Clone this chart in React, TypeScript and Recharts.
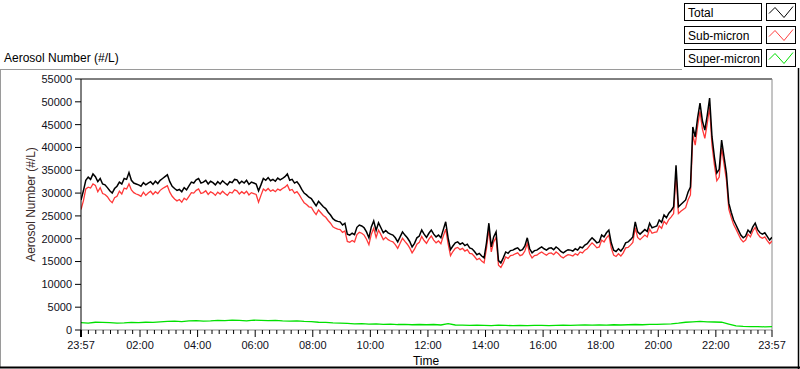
import React from "react";
import { LineChart, Line, XAxis, YAxis, ReferenceLine } from "recharts";

// minutes after 23:57, 5-minute samples for total / sub-micron
const STEP_MIN = 5;
const SUPER_STEP_MIN = 15;
const START_MIN = 23 * 60 + 57;

const totalCounts = [
  28500, 30500, 32800, 33500, 33000, 34200, 33600, 32500, 33200, 32000, 31800, 31200,
  30500, 30000, 31000, 31500, 32400, 32000, 33200, 33000, 34500, 32800, 32200, 32000,
  31800, 31500, 32300, 31800, 32200, 32500, 31900, 32600, 32100, 32800, 33200, 33600,
  34000, 32500, 31500, 31000, 30600, 30800, 30300, 31200, 30700, 31600, 32400, 32200,
  32900, 33200, 32200, 32400, 32800, 32000, 32600, 32300, 31800, 32500, 32000, 32700,
  32200, 31800, 32500, 32300, 33000, 32900, 32100, 32600, 32200, 32800, 31900, 32400,
  32200, 32000, 30500, 31800, 33200, 32800, 33400, 32700, 33000, 32600, 33300, 32900,
  33200, 33600, 34200, 32800, 33000, 32200, 32500, 31800, 30800, 30000, 29600, 29100,
  28800, 28000, 27200, 28200, 27600, 27000, 26600, 25800, 25200, 24400, 24000, 23800,
  23700, 23000, 23400, 21000, 20800, 21200, 20900, 22500, 23000, 22800, 22400, 21500,
  20200, 22600, 23900, 21800, 23500, 22400, 21300, 21800, 21300, 21000, 20800, 20200,
  19300, 20400, 21500, 20800, 20200, 19400, 18200, 19000, 20200, 20600, 21900, 21000,
  20300, 21200, 21900, 21000, 20400, 20800, 20200, 22000, 23700, 20200, 17600, 18400,
  19100, 19300, 18800, 19100, 18500, 18800, 18000, 17800, 17200, 16500, 16800, 16200,
  15800, 19100, 23400, 18200, 20400, 21500, 15200, 14700, 15800, 17100, 16800, 17400,
  17500, 17800, 18000, 17400, 17600, 18400, 20200, 17800, 16900, 17400, 17500, 17900,
  18200, 17800, 17500, 17900, 18000, 17600, 18200, 17800, 17200, 16900, 17300, 17600,
  17500, 17300, 17800, 17500, 18200, 18000, 18600, 18900, 19600, 20200, 19700, 19100,
  19300, 20800, 20400, 21300, 21900, 19100, 17500, 17200, 17800, 17300, 18000, 19100,
  19300, 19800, 20400, 23700, 21500, 21000, 21500, 22000, 21600, 23400, 22400, 22600,
  22800, 24100, 23600, 25200, 24600, 25600, 26200, 27000, 36100, 27000, 27500, 28000,
  28500, 30200, 31300, 44500, 42300, 46500, 49700, 45800, 43800, 47000, 50800, 42300,
  37900, 34400, 35200, 41600, 38000, 34400, 27800, 25800, 24100, 23000, 21900, 20800,
  20200, 20600, 21900, 21300, 22600, 23400, 22000, 21300, 21000, 21300, 20500, 19700, 20300,
];

const subMicronCounts = [
  26400, 28300, 30900, 31300, 31100, 32000, 31700, 30300, 31200, 29900, 29700, 29200,
  28400, 27900, 29000, 29300, 30400, 29800, 31100, 30900, 32000, 30700, 30100, 29800,
  29600, 29300, 30200, 29500, 30000, 30400, 29700, 30300, 29900, 30600, 31000, 31300,
  31600, 30200, 29300, 28700, 28300, 28600, 28000, 28900, 28500, 29300, 30100, 30000,
  30600, 30900, 29900, 30100, 30500, 29700, 30300, 30000, 29500, 30200, 29800, 30400,
  29900, 29500, 30200, 30000, 30700, 30500, 29800, 30300, 29900, 30400, 29600, 30100,
  29900, 29700, 28000, 29500, 30900, 30500, 31000, 30400, 30700, 30300, 30900, 30600,
  31000, 31300, 31800, 30600, 30800, 30000, 30300, 29600, 28700, 27900, 27500, 27000,
  26900, 26000, 25300, 26300, 25700, 25100, 24700, 24000, 23400, 22600, 22300, 22100,
  22000, 21400, 21700, 19400, 19200, 19600, 19300, 20900, 21400, 21200, 20800, 19900,
  18700, 21000, 22300, 20300, 21900, 20900, 19800, 20300, 19800, 19500, 19300, 18700,
  17900, 19000, 20100, 19400, 18800, 18000, 16900, 17700, 18800, 19200, 20500, 19600,
  19000, 19900, 20600, 19700, 19100, 19500, 18900, 20600, 22100, 18900, 16300, 17200,
  17900, 18100, 17600, 17900, 17300, 17600, 16800, 16700, 16100, 15400, 15700, 15100,
  14700, 17900, 22100, 17100, 19300, 20300, 14200, 13700, 14700, 16000, 15700, 16300,
  16400, 16700, 16900, 16300, 16500, 17300, 19000, 16700, 15800, 16300, 16400, 16800,
  17100, 16700, 16400, 16800, 16900, 16500, 17100, 16700, 16100, 15800, 16200, 16500,
  16400, 16200, 16700, 16400, 17100, 16900, 17500, 17800, 18500, 19100, 18600, 18000,
  18200, 19700, 19300, 20200, 20800, 18000, 16400, 16100, 16700, 16200, 16900, 18000,
  18100, 18600, 19200, 22400, 20300, 19800, 20300, 20800, 20400, 22100, 21200, 21400,
  21500, 22800, 22300, 23800, 23200, 24200, 24800, 25500, 34300, 25500, 26000, 26400,
  26800, 28500, 29600, 42700, 40500, 44700, 47900, 44000, 42000, 45200, 48800, 40500,
  36200, 32700, 33500, 39900, 36400, 32900, 26500, 24700, 23100, 22100, 21000, 19900,
  19300, 19700, 21000, 20400, 21700, 22500, 21100, 20400, 20100, 20400, 19600, 18900, 19500,
];

// 15-minute samples
const superMicronCounts = [
  1600, 1500, 1700, 1650, 1600, 1500, 1550, 1650,
  1600, 1700, 1650, 1800, 1900, 1950, 1850, 2000,
  2050, 1950, 2000, 2100, 2050, 2150, 2100, 2000,
  2150, 2100, 2050, 2100, 2000, 1950, 2000, 1900,
  1850, 1700, 1650, 1550, 1500, 1450, 1350, 1400,
  1300, 1350, 1250, 1300, 1200, 1250, 1150, 1200,
  1150, 1200, 1100, 1400, 1100, 1050, 1000, 1050,
  1000, 950, 1050, 1000, 950, 1000, 950, 1000,
  1000, 950, 1000, 1050, 1000, 1050, 1100, 1050,
  1100, 1050, 1150, 1100, 1150, 1200, 1150, 1250,
  1250, 1300, 1350, 1500, 1700, 1800, 1900, 1800,
  1750, 1700, 1300, 900, 800, 750, 750, 700, 750,
];

const majorTicks = [0, 123, 243, 363, 483, 603, 723, 843, 963, 1083, 1203, 1323, 1440];
const yTicks = [0, 5000, 10000, 15000, 20000, 25000, 30000, 35000, 40000, 45000, 50000, 55000];

const legendItems = [
  { name: "Total", color: "#000000" },
  { name: "Sub-micron", color: "#ff4040" },
  { name: "Super-micron", color: "#00e000" },
];

const totalData = totalCounts.map((v, i) => ({ t: i * STEP_MIN, v }));
const subData = subMicronCounts.map((v, i) => ({ t: i * STEP_MIN, v }));
const superData = superMicronCounts.map((v, i) => ({ t: i * SUPER_STEP_MIN, v }));

// 8 minor divisions between neighbouring major ticks
const allTicks: number[] = [];
majorTicks.forEach((m, i) => {
  allTicks.push(m);
  const next = majorTicks[i + 1];
  if (next !== undefined) {
    for (let k = 1; k < 8; k++) allTicks.push(m + ((next - m) * k) / 8);
  }
});

const FONT = "'Liberation Sans', Arial, sans-serif";

function clock(m: number) {
  const t = (START_MIN + m) % 1440;
  const hh = Math.floor(t / 60);
  const mm = Math.round(t % 60);
  return `${String(hh).padStart(2, "0")}:${String(mm).padStart(2, "0")}`;
}

function TimeTick(props: any) {
  const { x, y, payload } = props;
  const major = majorTicks.includes(payload.value);
  return (
    <g>
      <line
        x1={x}
        x2={x}
        y1={y}
        y2={y + (major ? 7 : 4)}
        stroke="#000"
        strokeWidth={payload.value === 0 ? 2 : 1}
      />
      {major && (
        <text x={x} y={y + 19} textAnchor="middle" fontSize={11} fill="#101020" fontFamily={FONT}>
          {clock(payload.value)}
        </text>
      )}
    </g>
  );
}

export default function App() {
  return (
    <div style={{ position: "absolute", left: 0, top: 0, width: 800, height: 369, background: "#fff" }}>
      <LineChart
        width={800}
        height={369}
        margin={{ top: 79, right: 28, bottom: 0, left: 0 }}
        style={{ position: "absolute", left: 0, top: 0 }}
      >
        <XAxis
          dataKey="t"
          type="number"
          domain={[0, 1440]}
          ticks={allTicks}
          interval={0}
          height={39}
          tickSize={0}
          tickMargin={0}
          tick={<TimeTick />}
          axisLine={{ stroke: "#8a8a8a" }}
          allowDataOverflow
        />
        <YAxis
          type="number"
          domain={[0, 55000]}
          ticks={yTicks}
          interval={0}
          width={81}
          tickSize={6}
          tickMargin={3}
          tickLine={{ stroke: "#000" }}
          axisLine={{ stroke: "#000" }}
          tick={{ fontSize: 11, fill: "#101020", fontFamily: FONT }}
          allowDataOverflow
        />
        <ReferenceLine y={55000} stroke="#000" />
        <ReferenceLine x={1440} stroke="#8a8a8a" />
        <Line
          data={subData}
          dataKey="v"
          stroke="#ff3838"
          strokeWidth={1.3}
          dot={false}
          activeDot={false}
          isAnimationActive={false}
          type="linear"
        />
        <Line
          data={totalData}
          dataKey="v"
          stroke="#000"
          strokeWidth={1.5}
          dot={false}
          activeDot={false}
          isAnimationActive={false}
          type="linear"
        />
        <Line
          data={superData}
          dataKey="v"
          stroke="#00e000"
          strokeWidth={1.3}
          dot={false}
          activeDot={false}
          isAnimationActive={false}
          type="linear"
        />
      </LineChart>

      {/* frame, titles and legend */}
      <svg width={800} height={369} style={{ position: "absolute", left: 0, top: 0, pointerEvents: "none" }}>
        <line x1={0} x2={682} y1={69.5} y2={69.5} stroke="#9a9a9a" />
        <line x1={0.5} x2={0.5} y1={69} y2={368} stroke="#9a9a9a" />
        <line x1={0} x2={800} y1={367.5} y2={367.5} stroke="#000" strokeWidth={2} />
        <line x1={798.5} x2={798.5} y1={68} y2={369} stroke="#000" strokeWidth={1.5} />
        <text x={4} y={62} fontSize={12} fill="#000" fontFamily={FONT}>
          Aerosol Number (#/L)
        </text>
        <text
          x={35}
          y={204.5}
          fontSize={12}
          fill="#3a2a2a"
          fontFamily={FONT}
          textAnchor="middle"
          transform="rotate(-90 35 204.5)"
        >
          Aerosol Number (#/L)
        </text>
        <text x={426} y={365} fontSize={12} fill="#000" fontFamily={FONT} textAnchor="middle">
          Time
        </text>
        {legendItems.map((item, i) => {
          const top = 3.5 + i * 23;
          return (
            <g key={item.name}>
              <rect x={684.5} y={top} width={77} height={17} fill="#fff" stroke="#000" />
              <text x={688} y={top + 13} fontSize={12} fill="#000" fontFamily={FONT}>
                {item.name}
              </text>
              <rect x={766.5} y={top} width={29} height={17} fill="#fff" stroke="#000" />
              <polyline
                points={`${769},${top + 10} ${775},${top + 4} ${784},${top + 14} ${793},${top + 3}`}
                fill="none"
                stroke={item.color}
              />
            </g>
          );
        })}
      </svg>
    </div>
  );
}
